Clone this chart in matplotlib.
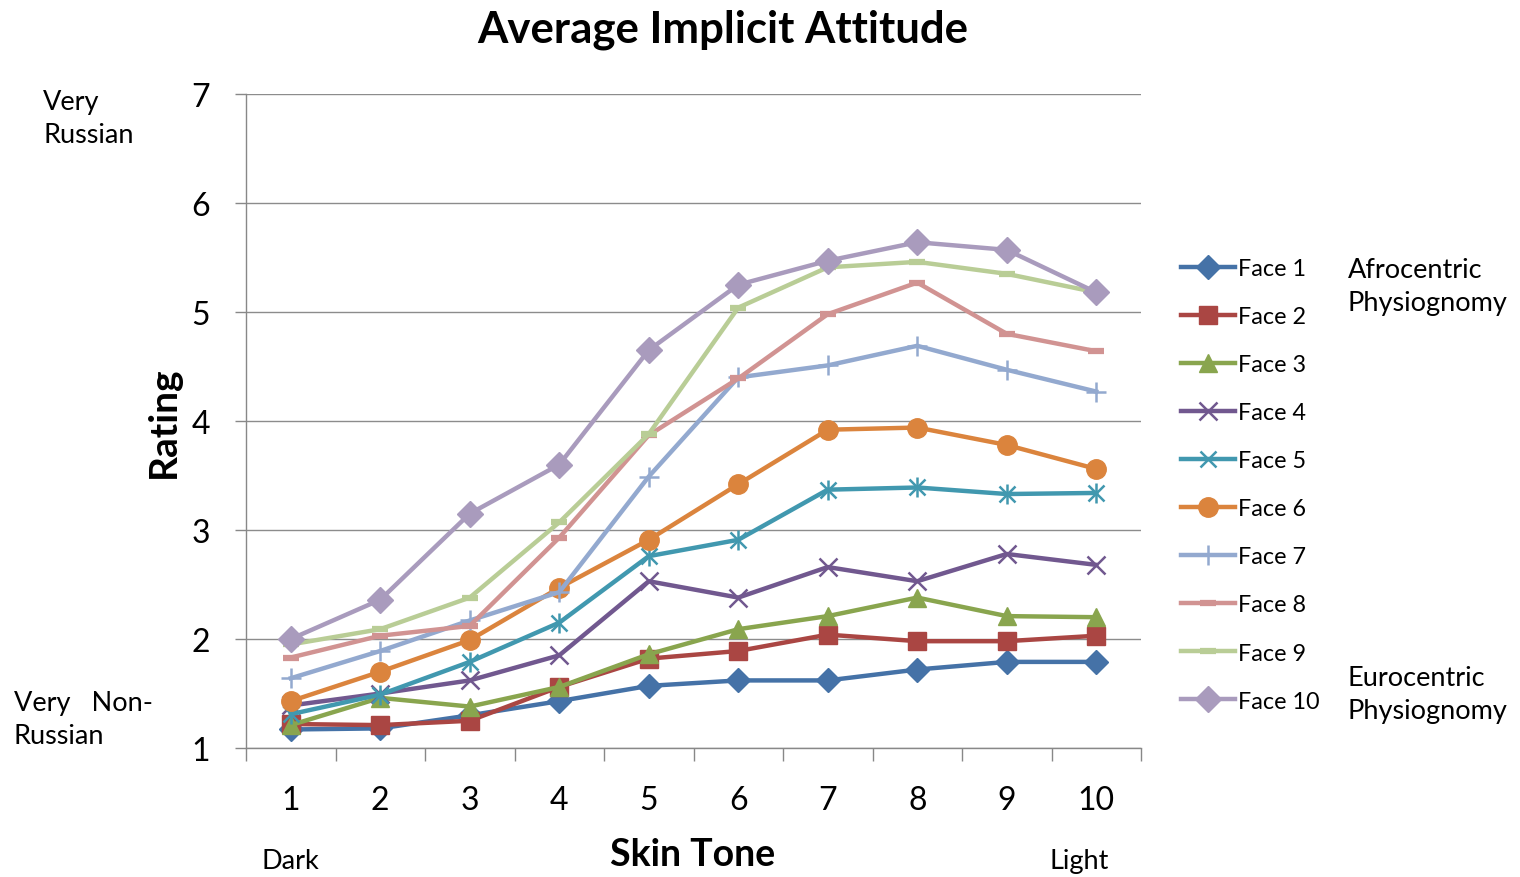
import matplotlib
matplotlib.use("Agg")
import matplotlib.pyplot as plt

plt.rcParams['font.family'] = ['Lato', 'DejaVu Sans']

skin_tone = [1, 2, 3, 4, 5, 6, 7, 8, 9, 10]
tick_labels = ["1", "2", "3", "4", "5", "6", "7", "8", "9", "10"]

face1 = [1.17, 1.18, 1.30, 1.43, 1.57, 1.62, 1.62, 1.72, 1.79, 1.79]
face2 = [1.22, 1.21, 1.25, 1.56, 1.82, 1.89, 2.04, 1.98, 1.98, 2.03]
face3 = [1.21, 1.46, 1.38, 1.56, 1.86, 2.09, 2.21, 2.38, 2.21, 2.20]
face4 = [1.39, 1.50, 1.62, 1.85, 2.53, 2.38, 2.66, 2.53, 2.78, 2.68]
face5 = [1.31, 1.49, 1.79, 2.15, 2.76, 2.91, 3.37, 3.39, 3.33, 3.34]
face6 = [1.43, 1.70, 1.99, 2.47, 2.91, 3.42, 3.92, 3.94, 3.78, 3.56]
face7 = [1.64, 1.89, 2.17, 2.43, 3.49, 4.40, 4.51, 4.69, 4.47, 4.27]
face8 = [1.83, 2.03, 2.12, 2.93, 3.87, 4.39, 4.98, 5.27, 4.80, 4.64]
face9 = [1.95, 2.09, 2.38, 3.07, 3.88, 5.04, 5.41, 5.46, 5.35, 5.18]
face10 = [2.00, 2.36, 3.15, 3.60, 4.65, 5.25, 5.47, 5.64, 5.57, 5.18]

series_names = ["Face 1", "Face 2", "Face 3", "Face 4", "Face 5",
                "Face 6", "Face 7", "Face 8", "Face 9", "Face 10"]
series_values = [face1, face2, face3, face4, face5,
                 face6, face7, face8, face9, face10]

colors = ["#4572A7", "#AA4643", "#89A54E", "#71588F", "#4198AF",
          "#DB843D", "#93A9CF", "#D19392", "#B9CD96", "#A99BBD"]
markers = ["D", "s", "^", "x", "*", "o", "+", "_", "_", "D"]
msizes = [12, 13, 13, 13, 14, 14, 15, 11, 11, 13]

fig = plt.figure(figsize=(15.2, 8.78), dpi=100)
ax = fig.add_axes([246 / 1520, 1 - 749 / 878, (1141 - 246) / 1520, (749 - 95) / 878])

handles = []
for name, vals, c, m, ms in zip(series_names, series_values, colors, markers, msizes):
    if m == "*":
        # asterisk: an x with a vertical bar through it
        ln, = ax.plot(skin_tone, vals, color=c, lw=3.2, marker="x", ms=ms - 2,
                      mew=1.8, label=name, zorder=3)
        ax.plot(skin_tone, vals, color=c, lw=0, marker="|", ms=ms + 1,
                mew=1.8, zorder=3)
    elif m in ("x", "+", "_"):
        ln, = ax.plot(skin_tone, vals, color=c, lw=3.2, marker=m, ms=ms,
                      mew=1.8 if m != "_" else 4.5, label=name, zorder=3)
    else:
        ln, = ax.plot(skin_tone, vals, color=c, lw=3.2, marker=m, ms=ms,
                      mec=c, mfc=c, label=name, zorder=3)
    handles.append(ln)

ax.set_xlim(0.5, 10.5)
ax.set_ylim(1, 7)
ax.set_yticks([1, 2, 3, 4, 5, 6, 7])
ax.set_xticks(skin_tone)
ax.set_xticklabels(tick_labels)
ax.set_xticks([i + 0.5 for i in range(0, 11)], minor=True)
ax.tick_params(axis="x", which="major", length=0, pad=27, labelsize=23)
ax.tick_params(axis="x", which="minor", length=9, width=1, color="#888888", direction="out")
ax.tick_params(axis="y", which="major", length=8, width=1, color="#888888",
               direction="out", pad=18, labelsize=23)

ax.grid(axis="y", color="#8c8c8c", lw=1)
ax.set_axisbelow(True)
for s in ("top", "right"):
    ax.spines[s].set_visible(False)
for s in ("left", "bottom"):
    ax.spines[s].set_color("#888888")
    ax.spines[s].set_linewidth(1)

fig.text(723 / 1520, 1 - 30 / 878, "Average Implicit Attitude", ha="center", va="center",
         fontsize=31.5, fontweight="bold")
fig.text(163 / 1520, 1 - 422 / 878, "Rating", rotation=90, ha="center", va="center",
         fontsize=28, fontweight="bold")
fig.text(693 / 1520, 1 - 855 / 878, "Skin Tone", ha="center", va="center",
         fontsize=27, fontweight="bold")

side_kw = dict(fontsize=19.5, ha="left", va="center", linespacing=1.4)
fig.text(43 / 1520, 1 - 119 / 878, "Very\nRussian", **side_kw)
fig.text(14 / 1520, 1 - 720 / 878, "Very   Non-\nRussian", **side_kw)
fig.text(261 / 1520, 1 - 862 / 878, "Dark", fontsize=19.5, ha="left", va="center")
fig.text(1050 / 1520, 1 - 862 / 878, "Light", fontsize=19.5, ha="left", va="center")
fig.text(1348 / 1520, 1 - 287 / 878, "Afrocentric\nPhysiognomy", **side_kw)
fig.text(1348 / 1520, 1 - 695 / 878, "Eurocentric\nPhysiognomy", **side_kw)

fig.legend(handles=handles, loc="upper left",
           bbox_to_anchor=(1181 / 1520, 1 - 259 / 878),
           frameon=False, fontsize=16.8, handlelength=2.3, handletextpad=0.15,
           labelspacing=1.16, borderpad=0, borderaxespad=0)

fig.savefig("out.png", dpi=100)
